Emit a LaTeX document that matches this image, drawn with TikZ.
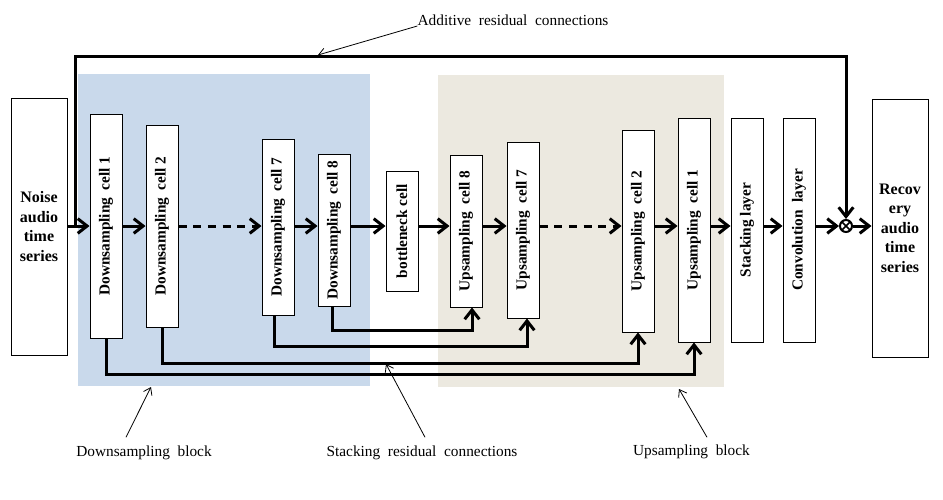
\documentclass[tikz,border=0pt]{standalone}
\usepackage{fontspec}
\setmainfont{Liberation Serif}
\usepackage{graphicx}
\usetikzlibrary{arrows.meta}
\definecolor{dsblue}{RGB}{201,217,235}
\definecolor{usbeige}{RGB}{236,233,224}
\begin{document}
\begin{tikzpicture}[x=0.75pt,y=-0.75pt,
  cell/.style={draw,line width=0.75pt,fill=white,minimum width=24pt,minimum height=#1,inner sep=0pt,font=\bfseries\fontsize{11.5}{13}\selectfont},
  iobox/.style={draw,line width=0.75pt,fill=white,minimum width=42pt,minimum height=#1,inner sep=0pt,align=center,font=\bfseries\fontsize{12}{14.6}\selectfont},
  main/.style={line width=2.25pt,-{Straight Barb[length=7pt,width=11pt]}},
  dashmain/.style={main,dash pattern=on 6pt off 5pt},
  ann/.style={line width=0.6pt,-{Straight Barb[length=5pt,width=7pt]}},
  note/.style={font=\fontsize{11.5}{13}\selectfont,inner sep=0pt}
]
\useasboundingbox (0,0) rectangle (943,500);
\fill[white] (0,0) rectangle (943,500);
\fill[dsblue] (78,74) rectangle (370,386);
\fill[usbeige] (438,75) rectangle (724,387);

% nodes
\node[iobox=192.75pt] (noise) at (39,226.5) {Noise\\audio\\time\\series};
\node[cell=168pt] (d1) at (106,226) {\rotatebox{90}{Downsampling\hspace{.25em} cell 1}};
\node[cell=151.5pt] (d2) at (162,226) {\rotatebox{90}{Downsampling\hspace{.25em} cell 2}};
\node[cell=132pt] (d7) at (278,227) {\rotatebox{90}{Downsampling\hspace{.25em} cell 7}};
\node[cell=114pt] (d8) at (334,230) {\rotatebox{90}{Downsampling\hspace{.25em} cell 8}};
\node[cell=90pt] (bn) at (402,231) {\rotatebox{90}{bottleneck cell}};
\node[cell=114pt] (u8) at (466,231) {\rotatebox{90}{Upsampling\hspace{.25em} cell 8}};
\node[cell=132pt] (u7) at (523,230) {\rotatebox{90}{Upsampling\hspace{.25em} cell 7}};
\node[cell=151.5pt] (u2) at (638,231) {\rotatebox{90}{Upsampling\hspace{.25em} cell 2}};
\node[cell=168pt] (u1) at (694,230) {\rotatebox{90}{Upsampling\hspace{.25em} cell 1}};
\node[cell=168pt] (st) at (747,230) {\rotatebox{90}{Stacking layer}};
\node[cell=168pt] (cv) at (799,230) {\rotatebox{90}{Convolution\hspace{.25em} layer}};
\node[iobox=193.5pt] (rec) at (900,228) {\raisebox{-3pt}{\parbox{40pt}{\centering Recov\\ery\\audio\\time\\series}}};
\node[circle,draw,line width=1.5pt,minimum size=9pt,inner sep=0pt] (ot) at (846,226) {};
\draw[line width=1.3pt] (ot.center) ++(45:4.5pt) -- ++(225:9pt);
\draw[line width=1.3pt] (ot.center) ++(135:4.5pt) -- ++(315:9pt);

% main chain
\coordinate (m) at (0,226);
\draw[main] (noise.east |- m) -- (d1.west |- m);
\draw[main] (d1.east |- m) -- (d2.west |- m);
\draw[dashmain] (d2.east |- m) -- (d7.west |- m);
\draw[main] (d7.east |- m) -- (d8.west |- m);
\draw[main] (d8.east |- m) -- (bn.west |- m);
\draw[main] (bn.east |- m) -- (u8.west |- m);
\draw[main] (u8.east |- m) -- (u7.west |- m);
\draw[dashmain] (u7.east |- m) -- (u2.west |- m);
\draw[main] (u2.east |- m) -- (u1.west |- m);
\draw[main] (u1.east |- m) -- (st.west |- m);
\draw[main] (st.east |- m) -- (cv.west |- m);
\draw[main] (cv.east |- m) -- (ot.west);
\draw[main] (ot.east) -- (rec.west |- m);

% additive residual connection
\coordinate (tap) at (75,226);
\coordinate (topy) at (0,56);
\draw[main] (tap) |- (ot.north |- topy) -- (ot.north);

% stacking residual connections
\coordinate (y8) at (0,330);
\coordinate (y7) at (0,346);
\coordinate (y2) at (0,363);
\coordinate (y1) at (0,374);
\coordinate (d8s) at ([xshift=-1.5pt]d8.south);
\coordinate (d7s) at ([xshift=-3pt]d7.south);
\coordinate (u8s) at ([xshift=4.5pt]u8.south);
\coordinate (u7s) at ([xshift=3pt]u7.south);
\draw[main] (d8s) -- (d8s |- y8) -| (u8s);
\draw[main] (d7s) -- (d7s |- y7) -| (u7s);
\draw[main] (d2.south) -- (d2.south |- y2) -| (u2.south);
\draw[main] (d1.south) -- (d1.south |- y1) -| (u1.south);

% annotations
\node[note] (addtxt) at (513,20) {Additive\hspace{.25em} residual\hspace{.25em} connections};
\coordinate (addtip) at (318,55);
\draw[ann] ([shift={(0,6)}]addtxt.west) -- (addtip);

\node[note] (dstxt) at (144,453) {Downsampling\hspace{.25em} block};
\coordinate (dstip) at (151,387);
\draw[ann] ([shift={(-18,-8.5)}]dstxt.north) -- (dstip);

\node[note] (sttxt) at (422,453) {Stacking\hspace{.25em} residual\hspace{.25em} connections};
\coordinate (sttip) at (386,364);
\draw[ann] ([shift={(3,-8.5)}]sttxt.north) -- (sttip);

\node[note] (ustxt) at (691.5,452) {Upsampling\hspace{.25em} block};
\coordinate (ustip) at (679,389);
\draw[ann] ([shift={(15.5,-7.5)}]ustxt.north) -- (ustip);
\end{tikzpicture}
\end{document}
